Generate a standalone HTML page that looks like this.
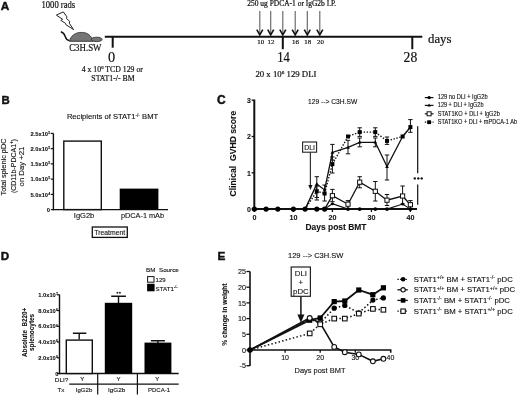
<!DOCTYPE html>
<html><head><meta charset="utf-8"><style>
html,body{margin:0;padding:0;background:#fff;width:520px;height:396px;overflow:hidden}
svg{display:block;will-change:transform}
.sf{font-family:"Liberation Serif",serif;fill:#111;stroke:#111;stroke-width:0.2px}
.ss{font-family:"Liberation Sans",sans-serif;fill:#111;stroke:#111;stroke-width:0.12px}
.b{font-weight:bold;stroke-width:0.08px}
.lab{stroke-width:0.45px}
</style></head><body>
<svg width="520" height="396" viewBox="0 0 520 396">
<rect width="520" height="396" fill="#fff"/>
<!-- ============ PANEL A ============ -->
<g id="A">
<text class="ss b lab" x="0.8" y="9.5" font-size="11.8">A</text>
<text class="sf" x="41.5" y="8" font-size="10" textLength="33.7" lengthAdjust="spacingAndGlyphs">1000 rads</text>
<polygon points="56.4,15.1 63.3,11.9 66.9,16.8 66.5,18.5 69.7,21.4 69.3,23.2 73.6,29.6 65.8,24.6 65.4,23.2 60.8,20.4 62.6,19.3" fill="#fff" stroke="#222" stroke-width="1" stroke-linejoin="miter"/>
<path d="M60.8,31.8 C63.5,32.5 64.6,34.5 65.2,36.5 C65.8,38.6 67,40.2 69.6,40.7" fill="none" stroke="#111" stroke-width="1.4"/>
<path d="M69.6,41.3 C70.5,36 75,32.4 81.5,32.4 C87.5,32.4 91.5,35.5 93,41.3 Z" fill="#757575" stroke="#333" stroke-width="0.9"/>
<ellipse cx="96.7" cy="39.4" rx="5.4" ry="2.2" fill="#757575" stroke="#333" stroke-width="0.9"/>
<text class="sf" x="69.2" y="51.3" font-size="10" textLength="32.3" lengthAdjust="spacingAndGlyphs">C3H.SW</text>
<!-- timeline -->
<line x1="104.8" y1="36.8" x2="422.3" y2="36.8" stroke="#111" stroke-width="2"/>
<line x1="112.7" y1="36.8" x2="112.7" y2="47.7" stroke="#111" stroke-width="2"/>
<line x1="282.8" y1="36.8" x2="282.8" y2="49.2" stroke="#111" stroke-width="2"/>
<line x1="412.3" y1="36.8" x2="412.3" y2="49.2" stroke="#111" stroke-width="2"/>
<text class="sf" x="108.1" y="61.6" font-size="14.3">0</text>
<text class="sf" x="277.2" y="61.9" font-size="14.3" textLength="12.6" lengthAdjust="spacingAndGlyphs">14</text>
<text class="sf" x="403.6" y="62" font-size="14.3" textLength="13.6" lengthAdjust="spacingAndGlyphs">28</text>
<text class="sf" x="428" y="43.1" font-size="13.4" textLength="23.5" lengthAdjust="spacingAndGlyphs">days</text>
<text class="sf" x="81.7" y="72.1" font-size="8.2" textLength="61.2" lengthAdjust="spacingAndGlyphs">4 x 10<tspan font-size="5" dy="-3">6</tspan><tspan dy="3"> TCD 129 or</tspan></text>
<text class="sf" x="91.3" y="80.8" font-size="8.2" textLength="43.3" lengthAdjust="spacingAndGlyphs">STAT1-/- BM</text>
<text class="sf" x="247.3" y="6.4" font-size="7.2" textLength="88.9" lengthAdjust="spacingAndGlyphs">250 ug PDCA-1 or IgG2b I.P.</text>
<g stroke="#666" stroke-width="1.15">
<line x1="259.8" y1="11" x2="259.8" y2="34"/>
<line x1="270.7" y1="11" x2="270.7" y2="34"/>
<line x1="282.8" y1="11" x2="282.8" y2="34"/>
<line x1="295.2" y1="11" x2="295.2" y2="34"/>
<line x1="307.3" y1="11" x2="307.3" y2="34"/>
<line x1="319.8" y1="11" x2="319.8" y2="34"/>
</g>
<g fill="none" stroke="#111" stroke-width="1.6">
<polyline points="256.8,29.7 259.8,34.8 262.8,29.7"/>
<polyline points="267.7,29.7 270.7,34.8 273.7,29.7"/>
<polyline points="279.8,29.7 282.8,34.8 285.8,29.7"/>
<polyline points="292.2,29.7 295.2,34.8 298.2,29.7"/>
<polyline points="304.3,29.7 307.3,34.8 310.3,29.7"/>
<polyline points="316.8,29.7 319.8,34.8 322.8,29.7"/>
</g>
<g class="sf" font-size="6.9">
<text x="257.3" y="44">10</text>
<text x="267.6" y="44">12</text>
<text x="292" y="44">16</text>
<text x="304.2" y="44">18</text>
<text x="317" y="44">20</text>
</g>
<text class="sf" x="255.4" y="76.9" font-size="8.4" textLength="61.1" lengthAdjust="spacingAndGlyphs">20 x 10<tspan font-size="5" dy="-3">6</tspan><tspan dy="3"> 129 DLI</tspan></text>
</g>

<g id="B">
<text class="ss b lab" x="1.4" y="104" font-size="11.4">B</text>
<text class="ss" x="66.9" y="119.3" font-size="7.1" stroke-width="0.1" textLength="91.2" lengthAdjust="spacingAndGlyphs">Recipients of STAT1<tspan font-size="4.5" dy="-2.8">-/-</tspan><tspan dy="2.8"> BMT</tspan></text>
<line x1="53.4" y1="133.4" x2="53.4" y2="210.2" stroke="#111" stroke-width="1.4"/>
<line x1="52.7" y1="209.6" x2="168" y2="209.6" stroke="#111" stroke-width="1.4"/>
<line x1="50.8" y1="133.4" x2="53.4" y2="133.4" stroke="#111" stroke-width="1.2"/>
<line x1="50.8" y1="148.65" x2="53.4" y2="148.65" stroke="#111" stroke-width="1.2"/>
<line x1="50.8" y1="163.9" x2="53.4" y2="163.9" stroke="#111" stroke-width="1.2"/>
<line x1="50.8" y1="179.15" x2="53.4" y2="179.15" stroke="#111" stroke-width="1.2"/>
<line x1="50.8" y1="194.4" x2="53.4" y2="194.4" stroke="#111" stroke-width="1.2"/>
<line x1="50.8" y1="209.6" x2="53.4" y2="209.6" stroke="#111" stroke-width="1.2"/>
<text class="ss b" x="48.1" y="135.5" font-size="5.8" text-anchor="end" textLength="17.7" lengthAdjust="spacingAndGlyphs">2.5x10</text>
<text class="ss b" x="48.2" y="133.6" font-size="3.6">5</text>
<text class="ss b" x="48.1" y="150.8" font-size="5.8" text-anchor="end" textLength="17.7" lengthAdjust="spacingAndGlyphs">2.0x10</text>
<text class="ss b" x="48.2" y="148.8" font-size="3.6">5</text>
<text class="ss b" x="48.1" y="166.0" font-size="5.8" text-anchor="end" textLength="17.7" lengthAdjust="spacingAndGlyphs">1.5x10</text>
<text class="ss b" x="48.2" y="164.1" font-size="3.6">5</text>
<text class="ss b" x="48.1" y="181.2" font-size="5.8" text-anchor="end" textLength="17.7" lengthAdjust="spacingAndGlyphs">1.0x10</text>
<text class="ss b" x="48.2" y="179.3" font-size="3.6">5</text>
<text class="ss b" x="48.1" y="196.5" font-size="5.8" text-anchor="end" textLength="17.7" lengthAdjust="spacingAndGlyphs">5.0x10</text>
<text class="ss b" x="48.2" y="194.6" font-size="3.6">4</text>
<text class="ss b" x="50" y="211.7" font-size="5.8" text-anchor="end">0</text>
<g class="ss" font-size="7.2" text-anchor="middle">
<text transform="translate(6.3,167) rotate(-90)" textLength="57" lengthAdjust="spacingAndGlyphs">Total splenic pDC</text>
<text transform="translate(15.6,166.1) rotate(-90)" textLength="54" lengthAdjust="spacingAndGlyphs">(CD11b<tspan>-</tspan>PDCA1<tspan font-size="4.5" dy="-2.8">+</tspan><tspan dy="2.8">)</tspan></text>
<text transform="translate(23.6,166.5) rotate(-90)" textLength="39.8" lengthAdjust="spacingAndGlyphs">on Day +21</text>
</g>
<rect x="63.8" y="141.1" width="37.5" height="68.5" fill="#fff" stroke="#111" stroke-width="1.4"/>
<rect x="119.7" y="188.6" width="38.7" height="21" fill="#000"/>
<text class="ss" x="73.8" y="218" font-size="7.6" textLength="20.5" lengthAdjust="spacingAndGlyphs">IgG2b</text>
<text class="ss" x="120.9" y="218.2" font-size="7.6" textLength="43.2" lengthAdjust="spacingAndGlyphs">pDCA-1 mAb</text>
<rect x="92.3" y="227" width="35" height="10.4" fill="#fff" stroke="#111" stroke-width="1.3"/>
<text class="ss" x="94.3" y="234.8" font-size="7.3" textLength="30.9" lengthAdjust="spacingAndGlyphs">Treatment</text>
</g>
<g id="C">
<text class="ss b lab" x="217" y="104.3" font-size="12">C</text>
<text class="ss" x="308" y="104.2" font-size="7" textLength="49.2" lengthAdjust="spacingAndGlyphs">129 --&gt; C3H.SW</text>
<line x1="254.3" y1="99.6" x2="254.3" y2="210.1" stroke="#111" stroke-width="2"/>
<line x1="253.3" y1="209.1" x2="417" y2="209.1" stroke="#111" stroke-width="2"/>
<line x1="251.6" y1="209.1" x2="254.3" y2="209.1" stroke="#111" stroke-width="1.3"/>
<text class="ss b" x="250.8" y="211.9" font-size="7" text-anchor="end">0</text>
<line x1="251.6" y1="172.8" x2="254.3" y2="172.8" stroke="#111" stroke-width="1.3"/>
<text class="ss b" x="250.8" y="175.6" font-size="7" text-anchor="end">1</text>
<line x1="251.6" y1="136.5" x2="254.3" y2="136.5" stroke="#111" stroke-width="1.3"/>
<text class="ss b" x="250.8" y="139.3" font-size="7" text-anchor="end">2</text>
<line x1="251.6" y1="100.2" x2="254.3" y2="100.2" stroke="#111" stroke-width="1.3"/>
<text class="ss b" x="250.8" y="103.0" font-size="7" text-anchor="end">3</text>
<line x1="254.4" y1="209.1" x2="254.4" y2="212" stroke="#111" stroke-width="1.3"/>
<text class="ss b" x="254.4" y="219.8" font-size="7.2" text-anchor="middle">0</text>
<line x1="293.4" y1="209.1" x2="293.4" y2="212" stroke="#111" stroke-width="1.3"/>
<text class="ss b" x="293.4" y="219.8" font-size="7.2" text-anchor="middle">10</text>
<line x1="332.4" y1="209.1" x2="332.4" y2="212" stroke="#111" stroke-width="1.3"/>
<text class="ss b" x="332.4" y="219.8" font-size="7.2" text-anchor="middle">20</text>
<line x1="371.4" y1="209.1" x2="371.4" y2="212" stroke="#111" stroke-width="1.3"/>
<text class="ss b" x="371.4" y="219.8" font-size="7.2" text-anchor="middle">30</text>
<line x1="410.4" y1="209.1" x2="410.4" y2="212" stroke="#111" stroke-width="1.3"/>
<text class="ss b" x="410.4" y="219.8" font-size="7.2" text-anchor="middle">40</text>
<text class="ss b" x="305.4" y="230.4" font-size="8.2" textLength="61.1" lengthAdjust="spacingAndGlyphs">Days post BMT</text>
<text class="ss b" transform="translate(236,153.6) rotate(-90)" font-size="8.2" text-anchor="middle" textLength="85.6" lengthAdjust="spacingAndGlyphs">Clinical&#160; GVHD score</text>
<path d="M316.8,176.7 V197.5 M314.6,176.7 H319.0 M314.6,197.5 H319.0" stroke="#111" stroke-width="1" fill="none"/>
<path d="M316.8,186 V200 M314.6,186 H319.0 M314.6,200 H319.0" stroke="#111" stroke-width="1" fill="none"/>
<path d="M324.6,185 V201 M322.4,185 H326.8 M322.4,201 H326.8" stroke="#111" stroke-width="1" fill="none"/>
<path d="M332.4,144.4 V160 M330.2,144.4 H334.6 M330.2,160 H334.6" stroke="#111" stroke-width="1" fill="none"/>
<path d="M332.4,157 V173 M330.2,157 H334.6 M330.2,173 H334.6" stroke="#111" stroke-width="1" fill="none"/>
<path d="M348.0,140.3 V153.8 M345.8,140.3 H350.2 M345.8,153.8 H350.2" stroke="#111" stroke-width="1" fill="none"/>
<path d="M359.7,127.8 V136.4 M357.5,127.8 H361.9 M357.5,136.4 H361.9" stroke="#111" stroke-width="1" fill="none"/>
<path d="M359.7,138 V146.8 M357.5,138 H361.9 M357.5,146.8 H361.9" stroke="#111" stroke-width="1" fill="none"/>
<path d="M375.3,127.8 V136.4 M373.1,127.8 H377.5 M373.1,136.4 H377.5" stroke="#111" stroke-width="1" fill="none"/>
<path d="M375.3,138 V146.8 M373.1,138 H377.5 M373.1,146.8 H377.5" stroke="#111" stroke-width="1" fill="none"/>
<path d="M387.0,137 V144.4 M384.8,137 H389.2 M384.8,144.4 H389.2" stroke="#111" stroke-width="1" fill="none"/>
<path d="M387.0,155 V180 M384.8,155 H389.2 M384.8,180 H389.2" stroke="#111" stroke-width="1" fill="none"/>
<path d="M410.4,119.6 V132.3 M408.2,119.6 H412.6 M408.2,132.3 H412.6" stroke="#111" stroke-width="1" fill="none"/>
<path d="M332.4,189.4 V201.7 M330.2,189.4 H334.6 M330.2,201.7 H334.6" stroke="#111" stroke-width="1" fill="none"/>
<path d="M348.0,200.6 V209 M345.8,200.6 H350.2 M345.8,209 H350.2" stroke="#111" stroke-width="1" fill="none"/>
<path d="M359.7,176.7 V187.8 M357.5,176.7 H361.9 M357.5,187.8 H361.9" stroke="#111" stroke-width="1" fill="none"/>
<path d="M375.3,181.5 V201 M373.1,181.5 H377.5 M373.1,201 H377.5" stroke="#111" stroke-width="1" fill="none"/>
<path d="M387.0,194.5 V205.5 M384.8,194.5 H389.2 M384.8,205.5 H389.2" stroke="#111" stroke-width="1" fill="none"/>
<path d="M402.6,186 V204 M400.4,186 H404.8 M400.4,204 H404.8" stroke="#111" stroke-width="1" fill="none"/>
<path d="M410.4,200.6 V209 M408.2,200.6 H412.6 M408.2,209 H412.6" stroke="#111" stroke-width="1" fill="none"/>
<polyline points="305.1,209.1 316.8,184.1 324.6,189.9 332.4,152.5 348.0,147.4 359.7,142.3 375.3,142.3 387.0,166.6 402.6,136.5 410.4,127.1" fill="none" stroke="#111" stroke-width="1.3"/>
<polyline points="305.1,209.1 316.8,191.3 324.6,193.5 332.4,164.1 348.0,136.5 359.7,132.1 375.3,132.1 387.0,140.9 402.6,136.5 410.4,127.1" fill="none" stroke="#111" stroke-width="1.4" stroke-dasharray="1.4,1.6"/>
<polyline points="324.6,209.1 332.4,195.7 348.0,204.2 359.7,182.2 375.3,191.3 387.0,200.2 402.6,196.0 410.4,204.7" fill="none" stroke="#111" stroke-width="1.3"/>
<polyline points="324.6,209.1 332.4,203.7 348.0,209.1 359.7,209.1 375.3,209.1 387.0,209.1 402.6,204.0 410.4,209.1" fill="none" stroke="#111" stroke-width="1.1"/>
<circle cx="254.4" cy="209.1" r="2.6" fill="#000"/>
<circle cx="266.1" cy="209.1" r="2.6" fill="#000"/>
<circle cx="277.8" cy="209.1" r="2.6" fill="#000"/>
<circle cx="293.4" cy="209.1" r="2.6" fill="#000"/>
<circle cx="305.1" cy="209.1" r="2.6" fill="#000"/>
<circle cx="316.8" cy="209.1" r="2.6" fill="#000"/>
<circle cx="324.6" cy="209.1" r="2.6" fill="#000"/>
<circle cx="348.0" cy="209.1" r="1.9" fill="#000"/>
<circle cx="359.7" cy="209.1" r="1.9" fill="#000"/>
<circle cx="375.3" cy="209.1" r="1.9" fill="#000"/>
<circle cx="387.0" cy="209.1" r="1.9" fill="#000"/>
<circle cx="410.4" cy="209.1" r="1.9" fill="#000"/>
<circle cx="332.4" cy="203.7" r="1.5" fill="#000"/>
<circle cx="402.6" cy="204.0" r="1.5" fill="#000"/>
<polygon points="316.8,182.1 315.0,185.4 318.6,185.4" fill="#000"/>
<polygon points="324.6,187.9 322.8,191.2 326.4,191.2" fill="#000"/>
<polygon points="332.4,150.5 330.6,153.8 334.2,153.8" fill="#000"/>
<polygon points="348.0,145.4 346.2,148.7 349.8,148.7" fill="#000"/>
<polygon points="359.7,140.3 357.9,143.6 361.5,143.6" fill="#000"/>
<polygon points="375.3,140.3 373.5,143.6 377.1,143.6" fill="#000"/>
<polygon points="387.0,164.6 385.2,167.9 388.8,167.9" fill="#000"/>
<polygon points="402.6,134.5 400.8,137.8 404.4,137.8" fill="#000"/>
<polygon points="410.4,125.1 408.6,128.4 412.2,128.4" fill="#000"/>
<rect x="314.8" y="189.3" width="4" height="4" fill="#000"/>
<rect x="322.6" y="191.5" width="4" height="4" fill="#000"/>
<rect x="330.4" y="162.1" width="4" height="4" fill="#000"/>
<rect x="346.0" y="134.5" width="4" height="4" fill="#000"/>
<rect x="357.7" y="130.1" width="4" height="4" fill="#000"/>
<rect x="373.3" y="130.1" width="4" height="4" fill="#000"/>
<rect x="385.0" y="138.9" width="4" height="4" fill="#000"/>
<rect x="400.6" y="134.5" width="4" height="4" fill="#000"/>
<rect x="408.4" y="125.1" width="4" height="4" fill="#000"/>
<rect x="330.3" y="193.6" width="4.2" height="4.2" fill="#fff" stroke="#111" stroke-width="1"/>
<rect x="345.9" y="202.1" width="4.2" height="4.2" fill="#fff" stroke="#111" stroke-width="1"/>
<rect x="357.6" y="180.1" width="4.2" height="4.2" fill="#fff" stroke="#111" stroke-width="1"/>
<rect x="373.2" y="189.2" width="4.2" height="4.2" fill="#fff" stroke="#111" stroke-width="1"/>
<rect x="384.9" y="198.1" width="4.2" height="4.2" fill="#fff" stroke="#111" stroke-width="1"/>
<rect x="400.5" y="193.9" width="4.2" height="4.2" fill="#fff" stroke="#111" stroke-width="1"/>
<rect x="408.3" y="202.6" width="4.2" height="4.2" fill="#fff" stroke="#111" stroke-width="1"/>
<rect x="302.6" y="142" width="14" height="10.2" fill="#fff" stroke="#222" stroke-width="1.1"/>
<text class="ss" x="309.6" y="149.6" font-size="7" text-anchor="middle">DLI</text>
<line x1="310.4" y1="152.2" x2="310.4" y2="186" stroke="#333" stroke-width="1.2"/>
<polygon points="308.3,185 312.5,185 310.4,190" fill="#111"/>
<line x1="417.7" y1="126.3" x2="417.7" y2="173.3" stroke="#111" stroke-width="1.2"/>
<line x1="417.7" y1="184.5" x2="417.7" y2="204.7" stroke="#111" stroke-width="1.2"/>
<circle cx="414.8" cy="178.4" r="1.2" fill="#111"/><circle cx="418.3" cy="178.4" r="1.2" fill="#111"/><circle cx="421.7" cy="178.4" r="1.2" fill="#111"/>
<line x1="424.8" y1="97.6" x2="433.5" y2="97.6" stroke="#111" stroke-width="1.2"/>
<circle cx="429.1" cy="97.6" r="1.7" fill="#000"/>
<text class="ss" x="437.8" y="99.3" font-size="6.3" stroke-width="0.18" textLength="49.8" lengthAdjust="spacingAndGlyphs">129 no DLI + IgG2b</text>
<line x1="424.8" y1="105.4" x2="433.5" y2="105.4" stroke="#111" stroke-width="1.2"/>
<polygon points="429.1,103.60000000000001 427.40000000000003,106.60000000000001 430.8,106.60000000000001" fill="#000"/>
<text class="ss" x="437.8" y="107.2" font-size="6.3" stroke-width="0.18" textLength="45.7" lengthAdjust="spacingAndGlyphs">129 + DLI + IgG2b</text>
<line x1="424.8" y1="113.8" x2="433.5" y2="113.8" stroke="#111" stroke-width="1.2"/>
<rect x="427.1" y="111.8" width="4" height="4" fill="#fff" stroke="#111" stroke-width="1"/>
<text class="ss" x="437.8" y="115.5" font-size="6.3" stroke-width="0.18" textLength="62" lengthAdjust="spacingAndGlyphs">STAT1KO + DLI + IgG2b</text>
<line x1="424.8" y1="122.2" x2="433.5" y2="122.2" stroke="#111" stroke-width="1.2" stroke-dasharray="1.4,1.2"/>
<rect x="427.20000000000005" y="120.3" width="3.8" height="3.8" fill="#000"/>
<text class="ss" x="437.8" y="124.0" font-size="6.3" stroke-width="0.18" textLength="79.2" lengthAdjust="spacingAndGlyphs">STAT1KO + DLI + mPDCA-1 Ab</text>
</g>
<g id="D">
<text class="ss b lab" x="0.8" y="260.2" font-size="11.6">D</text>
<line x1="59.5" y1="294.6" x2="59.5" y2="374.1" stroke="#111" stroke-width="1.4"/>
<line x1="58.8" y1="373.5" x2="178.7" y2="373.5" stroke="#111" stroke-width="1.4"/>
<line x1="57" y1="294.8" x2="59.5" y2="294.8" stroke="#111" stroke-width="1.2"/>
<line x1="57" y1="310.55" x2="59.5" y2="310.55" stroke="#111" stroke-width="1.2"/>
<line x1="57" y1="326.3" x2="59.5" y2="326.3" stroke="#111" stroke-width="1.2"/>
<line x1="57" y1="342.05" x2="59.5" y2="342.05" stroke="#111" stroke-width="1.2"/>
<line x1="57" y1="357.8" x2="59.5" y2="357.8" stroke="#111" stroke-width="1.2"/>
<line x1="57" y1="373.5" x2="59.5" y2="373.5" stroke="#111" stroke-width="1.2"/>
<text class="ss b" x="55.8" y="296.9" font-size="5.8" text-anchor="end" textLength="17.5" lengthAdjust="spacingAndGlyphs">1.0x10</text>
<text class="ss b" x="55.9" y="295.0" font-size="3.6">7</text>
<text class="ss b" x="55.8" y="312.7" font-size="5.8" text-anchor="end" textLength="17.5" lengthAdjust="spacingAndGlyphs">8.0x10</text>
<text class="ss b" x="55.9" y="310.8" font-size="3.6">6</text>
<text class="ss b" x="55.8" y="328.4" font-size="5.8" text-anchor="end" textLength="17.5" lengthAdjust="spacingAndGlyphs">6.0x10</text>
<text class="ss b" x="55.9" y="326.5" font-size="3.6">6</text>
<text class="ss b" x="55.8" y="344.2" font-size="5.8" text-anchor="end" textLength="17.5" lengthAdjust="spacingAndGlyphs">4.0x10</text>
<text class="ss b" x="55.9" y="342.2" font-size="3.6">6</text>
<text class="ss b" x="55.8" y="359.9" font-size="5.8" text-anchor="end" textLength="17.5" lengthAdjust="spacingAndGlyphs">2.0x10</text>
<text class="ss b" x="55.9" y="358.0" font-size="3.6">6</text>
<text class="ss b" x="58.4" y="375.6" font-size="5.8" text-anchor="end">0</text>
<text class="ss b" transform="translate(27.2,332.4) rotate(-90)" font-size="7" text-anchor="middle" textLength="49.2" lengthAdjust="spacingAndGlyphs">Absolute&#160; B220+</text>
<text class="ss b" transform="translate(34.3,332.4) rotate(-90)" font-size="7" text-anchor="middle" textLength="37.2" lengthAdjust="spacingAndGlyphs">splenocytes</text>
<path d="M79.2,339.5 V333.3 M72.9,333.3 H86.3" stroke="#111" stroke-width="1.4" fill="none"/>
<rect x="66.3" y="340.1" width="26" height="33.4" fill="#fff" stroke="#111" stroke-width="1.4"/>
<path d="M118.5,303 V296.3 M111.2,296.3 H125.9" stroke="#111" stroke-width="1.4" fill="none"/>
<rect x="104.8" y="302.8" width="27.4" height="70.7" fill="#000"/>
<circle cx="117.4" cy="292.7" r="0.95" fill="#222"/><circle cx="119.9" cy="292.7" r="0.95" fill="#222"/>
<path d="M157.9,343 V340.7 M150.9,340.7 H164.9" stroke="#111" stroke-width="1.4" fill="none"/>
<rect x="144.5" y="342.6" width="26.9" height="30.9" fill="#000"/>
<text class="ss" x="146.1" y="271.8" font-size="6" textLength="32.7" lengthAdjust="spacingAndGlyphs">BM&#160; Source</text>
<rect x="147.6" y="276.6" width="6.4" height="5.6" fill="#fff" stroke="#111" stroke-width="1"/>
<text class="ss" x="155.6" y="281.8" font-size="6">129</text>
<rect x="147.1" y="283.8" width="7.5" height="7.5" fill="#000"/>
<text class="ss" x="155.6" y="290.5" font-size="6" textLength="18.2" lengthAdjust="spacingAndGlyphs">STAT1</text>
<text class="ss" x="174" y="287.6" font-size="3.6">-/-</text>
<line x1="69.2" y1="384.2" x2="178.7" y2="384.2" stroke="#111" stroke-width="1.2"/>
<line x1="97.7" y1="373.5" x2="97.7" y2="394.6" stroke="#111" stroke-width="1.2"/>
<line x1="137.4" y1="373.5" x2="137.4" y2="394.6" stroke="#111" stroke-width="1.2"/>
<text class="ss" x="54.8" y="382.4" font-size="6.2" textLength="13.6" lengthAdjust="spacingAndGlyphs">DLI?</text>
<text class="ss" x="82.3" y="381.1" font-size="6" text-anchor="middle">Y</text>
<text class="ss" x="118.6" y="381.1" font-size="6" text-anchor="middle">Y</text>
<text class="ss" x="157.2" y="381.1" font-size="6" text-anchor="middle">Y</text>
<text class="ss" x="57.6" y="391.9" font-size="6" textLength="6.8" lengthAdjust="spacingAndGlyphs">Tx</text>
<text class="ss" x="75.8" y="391.9" font-size="6" textLength="16.5" lengthAdjust="spacingAndGlyphs">IgG2b</text>
<text class="ss" x="108" y="391.9" font-size="6" textLength="17.3" lengthAdjust="spacingAndGlyphs">IgG2b</text>
<text class="ss" x="148" y="391.9" font-size="6" textLength="22" lengthAdjust="spacingAndGlyphs">PDCA-1</text>
</g>
<g id="E">
<text class="ss b lab" x="217.4" y="260.2" font-size="11.8">E</text>
<text class="ss" x="288" y="257.6" font-size="7.8" textLength="55.4" lengthAdjust="spacingAndGlyphs">129 --&gt; C3H.SW</text>
<line x1="250" y1="271.5" x2="250" y2="365.9" stroke="#111" stroke-width="1.6"/>
<path d="M250,350 H390.7 V352.8" stroke="#111" stroke-width="1.6" fill="none"/>
<line x1="246.4" y1="271.5" x2="250" y2="271.5" stroke="#111" stroke-width="1.3"/>
<text class="ss" x="246" y="274.1" font-size="7.2" text-anchor="end">25</text>
<line x1="246.4" y1="287.2" x2="250" y2="287.2" stroke="#111" stroke-width="1.3"/>
<text class="ss" x="246" y="289.8" font-size="7.2" text-anchor="end">20</text>
<line x1="246.4" y1="302.9" x2="250" y2="302.9" stroke="#111" stroke-width="1.3"/>
<text class="ss" x="246" y="305.5" font-size="7.2" text-anchor="end">15</text>
<line x1="246.4" y1="318.6" x2="250" y2="318.6" stroke="#111" stroke-width="1.3"/>
<text class="ss" x="246" y="321.2" font-size="7.2" text-anchor="end">10</text>
<line x1="246.4" y1="334.3" x2="250" y2="334.3" stroke="#111" stroke-width="1.3"/>
<text class="ss" x="246" y="336.9" font-size="7.2" text-anchor="end">5</text>
<line x1="246.4" y1="350.0" x2="250" y2="350.0" stroke="#111" stroke-width="1.3"/>
<text class="ss" x="246" y="352.6" font-size="7.2" text-anchor="end">0</text>
<line x1="246.4" y1="365.7" x2="250" y2="365.7" stroke="#111" stroke-width="1.3"/>
<text class="ss" x="246" y="368.3" font-size="7.2" text-anchor="end">-5</text>
<line x1="285.1" y1="350" x2="285.1" y2="352.8" stroke="#111" stroke-width="1.3"/>
<line x1="320.2" y1="350" x2="320.2" y2="352.8" stroke="#111" stroke-width="1.3"/>
<line x1="355.3" y1="350" x2="355.3" y2="352.8" stroke="#111" stroke-width="1.3"/>
<text class="ss" x="285.1" y="360.2" font-size="7" text-anchor="middle">10</text>
<text class="ss" x="320.2" y="360.2" font-size="7" text-anchor="middle">20</text>
<text class="ss" x="355.3" y="360.2" font-size="7" text-anchor="middle">30</text>
<text class="ss" x="390.4" y="360.2" font-size="7" text-anchor="middle">40</text>
<text class="ss" x="294.5" y="373.2" font-size="7.6" textLength="51" lengthAdjust="spacingAndGlyphs">Days post BMT</text>
<text class="ss b" transform="translate(227,314.7) rotate(-90)" font-size="7.4" text-anchor="middle" textLength="62.2" lengthAdjust="spacingAndGlyphs">% change in weight</text>
<polyline points="250.0,350.0 309.7,318.0 320.2,323.0 334.2,346.9 344.8,352.2 358.8,354.4 372.9,361.3 383.4,358.8" fill="none" stroke="#111" stroke-width="1.6"/>
<polyline points="250.0,350.0 309.7,320.2 320.2,318.0 334.2,301.6 344.8,301.0 358.8,290.0 372.9,294.7 383.4,287.8" fill="none" stroke="#111" stroke-width="1.8"/>
<polyline points="250.0,350.0 309.7,319.1 320.2,323.0 334.2,308.2 344.8,305.4 358.8,312.9 372.9,300.1 383.4,297.9" fill="none" stroke="#111" stroke-width="1.5" stroke-dasharray="1.5,2.2"/>
<polyline points="250.0,350.0 309.7,333.4 320.2,324.3 334.2,318.6 344.8,318.6 358.8,313.6 372.9,308.9 383.4,309.8" fill="none" stroke="#111" stroke-width="1.5" stroke-dasharray="1.5,2.2"/>
<circle cx="309.7" cy="319.1" r="2.6" fill="#000"/>
<circle cx="320.2" cy="323.0" r="2.6" fill="#000"/>
<circle cx="334.2" cy="308.2" r="2.6" fill="#000"/>
<circle cx="344.8" cy="305.4" r="2.6" fill="#000"/>
<circle cx="358.8" cy="312.9" r="2.6" fill="#000"/>
<circle cx="372.9" cy="300.1" r="2.6" fill="#000"/>
<circle cx="383.4" cy="297.9" r="2.6" fill="#000"/>
<rect x="307.1" y="317.6" width="5.2" height="5.2" fill="#000"/>
<rect x="317.6" y="315.4" width="5.2" height="5.2" fill="#000"/>
<rect x="331.6" y="299.0" width="5.2" height="5.2" fill="#000"/>
<rect x="342.2" y="298.4" width="5.2" height="5.2" fill="#000"/>
<rect x="356.2" y="287.4" width="5.2" height="5.2" fill="#000"/>
<rect x="370.2" y="292.1" width="5.2" height="5.2" fill="#000"/>
<rect x="380.8" y="285.2" width="5.2" height="5.2" fill="#000"/>
<circle cx="309.7" cy="318.0" r="2.4" fill="#fff" stroke="#111" stroke-width="1.1"/>
<circle cx="320.2" cy="323.0" r="2.4" fill="#fff" stroke="#111" stroke-width="1.1"/>
<circle cx="334.2" cy="346.9" r="2.4" fill="#fff" stroke="#111" stroke-width="1.1"/>
<circle cx="344.8" cy="352.2" r="2.4" fill="#fff" stroke="#111" stroke-width="1.1"/>
<circle cx="358.8" cy="354.4" r="2.4" fill="#fff" stroke="#111" stroke-width="1.1"/>
<circle cx="372.9" cy="361.3" r="2.4" fill="#fff" stroke="#111" stroke-width="1.1"/>
<circle cx="383.4" cy="358.8" r="2.4" fill="#fff" stroke="#111" stroke-width="1.1"/>
<rect x="307.4" y="331.1" width="4.6" height="4.6" fill="#fff" stroke="#111" stroke-width="1.1"/>
<rect x="317.9" y="322.0" width="4.6" height="4.6" fill="#fff" stroke="#111" stroke-width="1.1"/>
<rect x="331.9" y="316.3" width="4.6" height="4.6" fill="#fff" stroke="#111" stroke-width="1.1"/>
<rect x="342.5" y="316.3" width="4.6" height="4.6" fill="#fff" stroke="#111" stroke-width="1.1"/>
<rect x="356.5" y="311.3" width="4.6" height="4.6" fill="#fff" stroke="#111" stroke-width="1.1"/>
<rect x="370.6" y="306.6" width="4.6" height="4.6" fill="#fff" stroke="#111" stroke-width="1.1"/>
<rect x="381.1" y="307.5" width="4.6" height="4.6" fill="#fff" stroke="#111" stroke-width="1.1"/>
<circle cx="250.0" cy="350.0" r="2.8" fill="#000"/>
<rect x="291.2" y="267" width="19.2" height="29.3" fill="#fff" stroke="#222" stroke-width="1.2"/>
<g class="ss" font-size="7.8" text-anchor="middle">
<text x="300.9" y="276.2">DLI</text><text x="300.9" y="285.4">+</text><text x="300.9" y="294.3">pDC</text>
</g>
<line x1="300.9" y1="296.5" x2="300.9" y2="316" stroke="#111" stroke-width="1.5"/>
<polygon points="297.4,314.5 304.4,314.5 300.9,322.8" fill="#111"/>
<line x1="397.4" y1="279.3" x2="407.8" y2="279.3" stroke="#111" stroke-width="1.3" stroke-dasharray="1.4,1.3"/>
<circle cx="403.1" cy="279.3" r="2.3" fill="#000"/>
<text class="ss" x="413.8" y="281.8" font-size="7.3" stroke-width="0.2" textLength="99" lengthAdjust="spacingAndGlyphs">STAT1<tspan font-size="5" dy="-2.6">+/+</tspan><tspan dy="2.6"> BM + STAT1</tspan><tspan font-size="5" dy="-2.6">-/-</tspan><tspan dy="2.6"> pDC</tspan></text>
<line x1="397.4" y1="289.8" x2="407.8" y2="289.8" stroke="#111" stroke-width="1.3"/>
<circle cx="403.1" cy="289.8" r="2.2" fill="#fff" stroke="#111" stroke-width="1.1"/>
<text class="ss" x="413.8" y="292.3" font-size="7.3" stroke-width="0.2" textLength="101.3" lengthAdjust="spacingAndGlyphs">STAT1<tspan font-size="5" dy="-2.6">+/+</tspan><tspan dy="2.6"> BM + STAT1</tspan><tspan font-size="5" dy="-2.6">+/+</tspan><tspan dy="2.6"> pDC</tspan></text>
<line x1="397.4" y1="300.4" x2="407.8" y2="300.4" stroke="#111" stroke-width="1.3"/>
<rect x="400.8" y="298.09999999999997" width="4.6" height="4.6" fill="#000"/>
<text class="ss" x="413.8" y="302.9" font-size="7.3" stroke-width="0.2" textLength="96.1" lengthAdjust="spacingAndGlyphs">STAT1<tspan font-size="5" dy="-2.6">-/-</tspan><tspan dy="2.6"> BM + STAT1</tspan><tspan font-size="5" dy="-2.6">-/-</tspan><tspan dy="2.6"> pDC</tspan></text>
<line x1="397.4" y1="311.2" x2="407.8" y2="311.2" stroke="#111" stroke-width="1.3" stroke-dasharray="1.4,1.3"/>
<rect x="400.90000000000003" y="309.0" width="4.4" height="4.4" fill="#fff" stroke="#111" stroke-width="1.1"/>
<text class="ss" x="413.8" y="313.7" font-size="7.3" stroke-width="0.2" textLength="99" lengthAdjust="spacingAndGlyphs">STAT1<tspan font-size="5" dy="-2.6">-/-</tspan><tspan dy="2.6"> BM + STAT1</tspan><tspan font-size="5" dy="-2.6">+/+</tspan><tspan dy="2.6"> pDC</tspan></text>
</g>
</svg>
</body></html>
